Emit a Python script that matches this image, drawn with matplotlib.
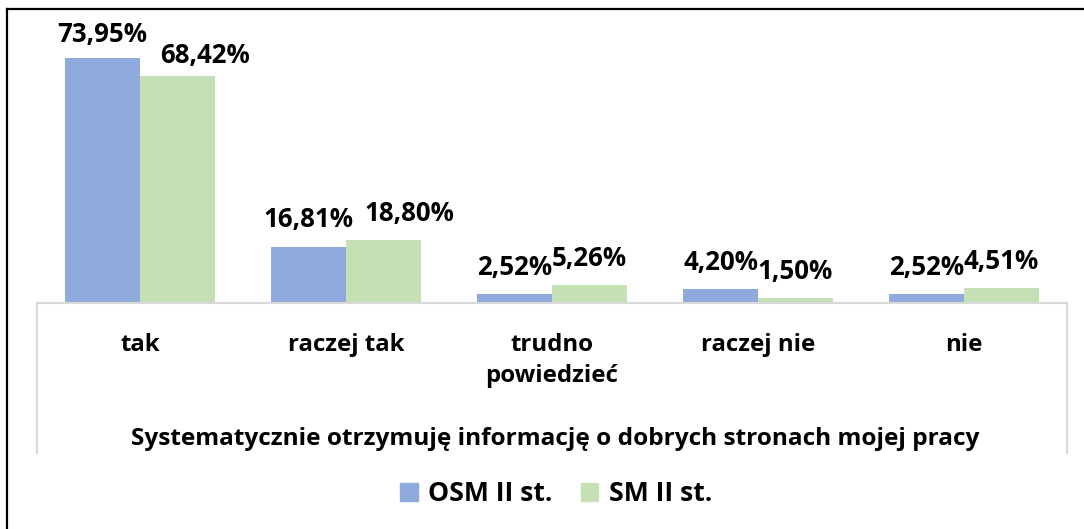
import matplotlib.pyplot as plt
import numpy as np
from matplotlib.lines import Line2D
from matplotlib.patches import Patch

plt.rcParams['font.family'] = ['Open Sans', 'DejaVu Sans']
plt.rcParams['font.weight'] = 'bold'

categories = ['tak', 'raczej tak', 'trudno\npowiedzieć', 'raczej nie', 'nie']
osm = [73.95, 16.81, 2.52, 4.20, 2.52]
sm = [68.42, 18.80, 5.26, 1.50, 4.51]
series_names = ['OSM II st.', 'SM II st.']
group_title = 'Systematycznie otrzymuję informację o dobrych stronach mojej pracy'

blue = '#8FAADC'
green = '#C5E0B4'
grey = '#D9D9D9'

W, H = 1084, 529
fig = plt.figure(figsize=(W / 100, H / 100), dpi=100)
ax = fig.add_axes([37 / W, (H - 302.5) / H, 1030 / W, 264.5 / H])

x = np.arange(len(categories))
bw = 0.364
b1 = ax.bar(x - bw / 2, osm, bw, color=blue)
b2 = ax.bar(x + bw / 2, sm, bw, color=green)

ax.set_xlim(-0.5, len(categories) - 0.5)
ax.set_ylim(0, 80)
ax.set_yticks([])
for s in ['top', 'right', 'left']:
    ax.spines[s].set_visible(False)
ax.spines['bottom'].set_color(grey)
ax.spines['bottom'].set_linewidth(1.5)

ax.set_xticks(x)
ax.set_xticklabels(categories, fontsize=17.3, fontweight='bold', linespacing=1.4)
ax.tick_params(axis='x', length=0, pad=22)

# multi-level category axis frame
drop = (453 - 302.5) / 264.5
for xa in [0, 1]:
    ax.plot([xa, xa], [0, -drop], transform=ax.transAxes, color=grey, lw=1.5, clip_on=False)

# value labels (pixel offsets of each label)
dx1 = [0, 0, 0, 0, 0]
dy1 = [16, 20, 19, 19, 19]
dx2 = [28, 26, 0, 0, 0]
dy2 = [13, 19, 19, 19, 19]
for bars, vals, dxs, dys in [(b1, osm, dx1, dy1), (b2, sm, dx2, dy2)]:
    for r, v, ddx, ddy in zip(bars, vals, dxs, dys):
        ax.annotate(f'{v:.2f}%'.replace('.', ','),
                    (r.get_x() + r.get_width() / 2, r.get_height()),
                    xytext=(ddx, ddy), textcoords='offset pixels',
                    ha='center', va='baseline', fontsize=18.6, fontweight='bold')

fig.text(555 / W, 1 - 445 / H, group_title, ha='center', va='baseline',
         fontsize=17.6, fontweight='bold')

handles = [Patch(color=blue), Patch(color=green)]
fig.legend(handles, series_names, loc='center', bbox_to_anchor=(556 / W, 1 - 494 / H),
           ncol=2, frameon=False, handlelength=0.65, handleheight=0.65,
           handletextpad=0.4, columnspacing=1.05,
           prop={'weight': 'bold', 'size': 19.2})

# outer frame (top and left only visible)
fig.add_artist(Line2D([7 / W, 1], [1 - 8.5 / H, 1 - 8.5 / H], color='black', lw=1.6))
fig.add_artist(Line2D([7 / W, 7 / W], [0, 1 - 8.5 / H], color='black', lw=1.6))

fig.savefig('out.png', dpi=100)
